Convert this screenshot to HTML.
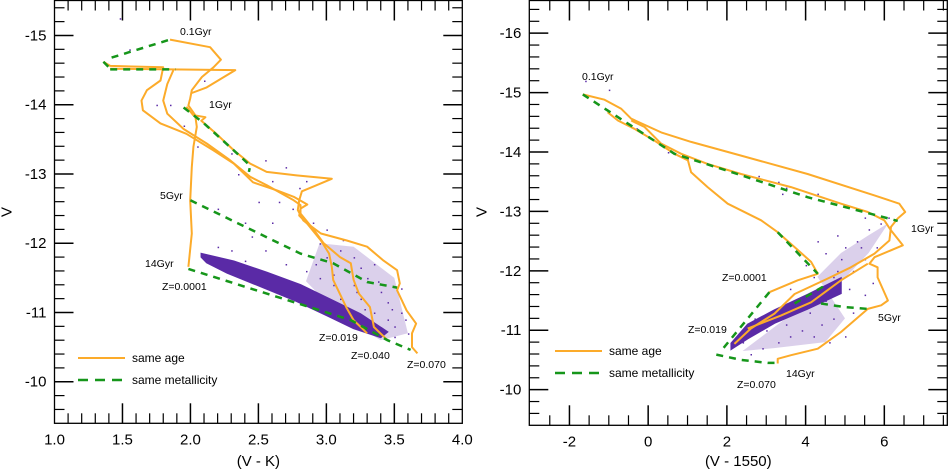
<!DOCTYPE html>
<html><head><meta charset="utf-8">
<style>
html,body{margin:0;padding:0;background:#fff;}
svg{display:block;font-family:"Liberation Sans",Arial,sans-serif;}
</style></head>
<body>
<svg id="fig" width="948" height="471" viewBox="0 0 948 471" xmlns="http://www.w3.org/2000/svg"></svg>
<script>
// ---------- LEFT PANEL DATA (V-K vs V) ----------
const L_xTicks = [1.0,1.5,2.0,2.5,3.0,3.5,4.0];
const L_xTickLabels = ["1.0","1.5","2.0","2.5","3.0","3.5","4.0"];
const L_yTicks = [-15,-14,-13,-12,-11,-10];
const L_yTickLabels = ["-15","-14","-13","-12","-11","-10"];
const L_ageTrack1 = [[1.85,-14.94],[2.145,-14.83],[2.224,-14.65],[2.17,-14.54],[2.084,-14.40],[2.01,-14.21],[1.998,-14.09],[1.985,-13.99],[2.035,-13.85],[2.047,-13.68],[2.022,-13.39],[2.01,-13.10],[1.998,-12.62],[2.01,-12.14],[1.985,-11.66]];
const L_ageTrack2 = [[1.41,-14.52],[2.33,-14.50],[2.12,-14.25],[2.01,-14.17]];
const L_ageTrack3 = [[1.36,-14.62],[1.41,-14.56],[1.80,-14.54],[1.78,-14.35],[1.68,-14.21],[1.64,-14.06],[1.65,-13.92],[1.78,-13.73],[1.97,-13.58],[2.17,-13.34],[2.32,-13.15],[2.46,-12.88],[2.64,-12.76],[2.76,-12.67],[2.86,-12.56],[2.81,-12.50],[2.80,-12.40],[2.86,-12.28],[2.96,-12.04],[3.02,-11.85],[3.04,-11.66],[3.05,-11.47],[3.15,-11.06],[3.20,-10.89],[3.30,-10.70]];
const L_ageTrack4 = [[1.875,-14.50],[1.83,-14.30],[1.80,-14.06],[1.83,-13.87],[1.95,-13.65],[2.12,-13.44],[2.29,-13.20],[2.44,-12.96],[2.56,-12.84],[2.76,-12.62],[2.81,-12.55],[2.81,-12.43],[2.91,-12.19],[2.98,-12.00],[3.10,-11.80],[3.18,-11.71],[3.20,-11.47],[3.24,-11.27],[3.32,-11.08],[3.35,-10.79],[3.45,-10.60]];
const L_ageTrack5 = [[1.97,-13.97],[2.02,-13.85],[2.11,-13.82],[2.08,-13.77],[2.19,-13.58],[2.32,-13.34],[2.44,-13.15],[2.56,-13.03],[2.78,-12.98],[3.04,-12.93],[2.93,-12.84],[2.82,-12.75],[2.80,-12.62],[2.79,-12.48],[2.83,-12.33],[2.96,-12.14],[3.15,-12.04],[3.30,-11.95],[3.42,-11.75],[3.52,-11.61],[3.54,-11.42],[3.52,-11.32],[3.59,-11.03],[3.66,-10.84],[3.63,-10.70],[3.63,-10.50],[3.67,-10.41]];
const L_met01a = [[1.42,-14.68],[1.85,-14.94]];
const L_met01b = [[1.36,-14.62],[1.41,-14.52]];
const L_met02 = [[1.41,-14.51],[1.89,-14.51]];
const L_met1Gyr = [[1.95,-13.96],[2.10,-13.73],[2.37,-13.25],[2.44,-13.12],[2.43,-13.03]];
const L_met5Gyr = [[2.0,-12.62],[2.81,-11.85],[3.05,-11.71],[3.30,-11.44],[3.52,-11.36]];
const L_met14Gyr = [[1.985,-11.63],[3.18,-10.89],[3.45,-10.60],[3.62,-10.46]];
const L_bandOutline = [[2.08,-11.85],[2.32,-11.74],[2.56,-11.58],[2.81,-11.40],[3.05,-11.17],[3.25,-10.98],[3.45,-10.72],[3.40,-10.64],[3.20,-10.77],[3.00,-10.96],[2.76,-11.18],[2.51,-11.38],[2.27,-11.57],[2.12,-11.72],[2.08,-11.80]];
const L_sparseOutline = [[2.85,-11.45],[2.95,-12.0],[3.2,-11.95],[3.5,-11.5],[3.6,-10.7],[3.4,-10.6],[3.1,-10.95]];
const L_scatter = [[2.3,-11.9],[2.45,-12.1],[2.6,-12.3],[2.75,-12.5],[2.9,-12.3],[2.95,-12.0],[3.0,-11.8],[3.1,-11.9],[3.15,-11.6],[3.2,-11.4],[3.25,-11.2],[3.3,-11.5],[3.35,-11.0],[3.4,-11.3],[3.45,-10.9],[3.5,-10.8],[3.55,-11.0],[3.6,-10.7],[3.1,-11.2],[3.05,-11.4],[2.95,-11.5],[2.85,-11.6],[2.7,-11.7],[3.2,-11.8],[3.3,-10.8],[3.4,-10.75],[3.5,-10.65],[3.0,-12.2],[2.8,-12.8],[2.65,-12.6],[2.5,-12.6],[2.4,-12.3],[2.2,-12.5],[2.35,-13.0],[2.55,-13.2],[2.7,-13.1],[2.3,-13.3],[2.05,-13.4],[1.95,-13.7],[1.85,-14.0],[1.75,-14.0],[1.55,-14.8],[1.48,-15.25],[2.1,-14.35],[2.6,-12.9],[2.85,-12.9],[3.12,-12.05],[3.25,-11.65],[3.45,-11.15],[3.55,-11.35],[3.38,-11.45],[3.28,-11.05],[3.15,-11.75],[3.05,-11.55],[2.92,-11.7],[3.48,-11.05],[3.58,-10.9],[2.55,-11.9],[2.4,-11.75],[2.2,-11.95],[3.35,-11.7],[3.22,-11.3]];

// ---------- RIGHT PANEL DATA (V-1550 vs V) ----------
const R_xTicks = [-2,0,2,4,6];
const R_xTickLabels = ["-2","0","2","4","6"];
const R_yTicks = [-16,-15,-14,-13,-12,-11,-10];
const R_yTickLabels = ["-16","-15","-14","-13","-12","-11","-10"];
const R_ageTrackA = [[-1.66,-14.97],[-1.11,-14.88],[-0.69,-14.73],[-0.43,-14.56],[0.33,-14.33],[1.09,-14.17],[2.36,-13.94],[4.05,-13.63],[5.75,-13.27],[6.38,-13.13],[6.53,-12.99],[6.34,-12.88],[6.17,-12.74],[6.13,-12.51],[5.75,-12.29],[5.15,-12.06],[4.56,-11.87],[3.72,-11.61],[3.21,-11.28],[2.61,-11.03],[2.19,-10.77]];
const R_ageTrackB = [[-1.03,-14.67],[-0.77,-14.53],[-0.35,-14.39],[0.16,-14.19],[0.67,-13.97],[1.01,-13.86],[1.09,-13.66],[1.51,-13.41],[2.02,-13.13],[2.87,-12.85],[3.29,-12.65],[3.72,-12.40],[4.14,-12.15],[4.31,-11.95],[3.80,-11.84],[3.08,-11.64]];
const R_ageTrackC = [[-0.43,-14.53],[-0.09,-14.42],[0.33,-14.14],[0.84,-13.97],[1.51,-13.80],[2.36,-13.63],[3.63,-13.41],[4.90,-13.13],[5.58,-12.99],[6.00,-12.85],[6.17,-12.68],[6.47,-12.43],[5.75,-12.23],[5.62,-12.12],[5.83,-12.06],[5.83,-11.89],[6.09,-11.50],[5.92,-11.42],[5.58,-11.36],[4.90,-10.97],[4.31,-10.69],[3.63,-10.58],[3.29,-10.52],[3.29,-10.44]];
const R_ageTrackD = [[2.53,-11.03],[3.38,-11.25],[4.14,-11.47],[4.90,-11.84],[5.58,-12.12]];
const R_met1 = [[-1.66,-14.97],[0.67,-13.97],[2.36,-13.61],[4.05,-13.24],[6.34,-12.84]];
const R_met2 = [[3.29,-12.65],[4.31,-11.95]];
const R_met3 = [[3.08,-11.64],[1.90,-10.69]];
const R_met4 = [[3.72,-11.45],[4.56,-11.78]];
const R_met5 = [[4.39,-11.45],[4.99,-11.39],[5.58,-11.36]];
const R_met6 = [[1.73,-10.59],[2.36,-10.50],[3.04,-10.45],[3.21,-10.45]];
const R_bandOutline = [[2.11,-10.78],[2.53,-11.10],[3.21,-11.34],[4.05,-11.60],[4.90,-11.88],[4.90,-11.62],[4.05,-11.36],[3.21,-11.12],[2.53,-10.86],[2.11,-10.68]];
const R_sparseOutline = [[2.4,-10.65],[3.5,-11.2],[4.6,-11.6],[5.6,-12.3],[6.1,-12.8],[5.6,-12.6],[4.9,-12.3],[4.3,-11.9],[5.0,-11.2],[4.5,-10.8],[3.2,-10.7]];
const R_scatter = [[4.5,-12.3],[4.8,-12.6],[5.0,-12.4],[5.3,-12.5],[5.6,-12.7],[5.9,-12.8],[6.1,-12.9],[5.5,-12.2],[5.2,-12.0],[4.7,-11.9],[4.2,-11.9],[4.0,-12.1],[3.6,-11.7],[3.9,-11.0],[4.2,-10.9],[4.6,-10.8],[5.0,-10.9],[3.3,-10.8],[2.9,-10.7],[2.6,-10.6],[3.5,-11.1],[4.4,-11.1],[5.2,-11.3],[5.5,-11.6],[5.7,-11.8],[4.9,-12.2],[4.3,-12.5],[3.4,-13.3],[3.3,-13.5],[2.8,-13.6],[1.0,-13.9],[0.5,-14.0],[-0.3,-14.4],[-1.6,-15.2],[-1.0,-15.05],[3.5,-13.4],[4.3,-13.3],[5.5,-12.9],[4.1,-11.3],[3.0,-11.0],[2.7,-11.2],[3.8,-11.5],[4.5,-11.5],[5.8,-12.4],[4.7,-11.2],[3.6,-10.9],[2.4,-10.8],[5.4,-12.4],[4.8,-12.0],[5.1,-11.7]];

// ---------- RENDERING ----------
const NS = "http://www.w3.org/2000/svg";
const svg = document.getElementById("fig");
const ORANGE = "#fcab2a", GREEN = "#16961a", PURPLE = "#5a2aa6";

function mk(tag, attrs, parent){
  const e = document.createElementNS(NS, tag);
  for (const k in attrs) e.setAttribute(k, attrs[k]);
  (parent||svg).appendChild(e);
  return e;
}

function panel(cfg){
  const g = mk("g", {});
  
  
  const sx = v => cfg.x0 + (v - cfg.xmin)/(cfg.xmax - cfg.xmin)*(cfg.x1 - cfg.x0);
  const sy = v => cfg.y0 + (v - cfg.ymin)/(cfg.ymax - cfg.ymin)*(cfg.y1 - cfg.y0);
  const pts = arr => arr.map(p => sx(p[0]).toFixed(1)+","+sy(p[1]).toFixed(1)).join(" ");

  const sp = mk("polygon", {points: pts(cfg.sparse), fill: PURPLE, "fill-opacity": 0.22, stroke: "none"}, g);
  
  
  const band = mk("polygon", {points: pts(cfg.band), fill: PURPLE, stroke: PURPLE, "stroke-width": 1.5}, g);
  
  
  cfg.scatter.forEach(p => {
    const d = mk("rect", {x: sx(p[0]).toFixed(1), y: sy(p[1]).toFixed(1), width: 1.5, height: 1.5, fill: PURPLE}, g);
    
    
  });
  cfg.ages.forEach(a => {
    const l = mk("polyline", {points: pts(a), fill: "none", stroke: ORANGE, "stroke-width": 2, "stroke-linejoin": "round"}, g);
    
    
  });
  cfg.mets.forEach(a => {
    const l = mk("polyline", {points: pts(a), fill: "none", stroke: GREEN, "stroke-width": 2.5, "stroke-dasharray": "7,6"}, g);
    
    
  });

  const fr = mk("rect", {x: cfg.x0, y: cfg.y0, width: cfg.x1-cfg.x0, height: cfg.y1-cfg.y0, fill: "none", stroke: "#000", "stroke-width": 1.3}, g);
  
  

  for (let v = cfg.xmin; v <= cfg.xmax + 1e-9; v += cfg.xMinor) {
    const vv = Math.round(v/cfg.xMinor)*cfg.xMinor;
    const major = cfg.xTicks.some(t => Math.abs(t - vv) < 1e-6);
    const len = major ? 20 : 10;
    const X = sx(vv);
    if (X < cfg.x0 + 1 || X > cfg.x1 - 1) continue;
    mk("line", {x1: X, x2: X, y1: cfg.y1, y2: cfg.y1 - len, stroke: "#000", "stroke-width": major?1.5:1.2}, g);
    mk("line", {x1: X, x2: X, y1: cfg.y0, y2: cfg.y0 + len, stroke: "#000", "stroke-width": major?1.5:1.2}, g);
  }
  cfg.xTicks.forEach((t,i) => {
    const tx = mk("text", {x: sx(t), y: cfg.y1 + 21, "font-size": 15, "text-anchor": "middle"}, g);
    tx.textContent = cfg.xTickLabels[i];
    
    
  });
  const yLo = Math.min(cfg.ymin, cfg.ymax), yHi = Math.max(cfg.ymin, cfg.ymax);
  for (let v = Math.ceil(yLo/0.2)*0.2; v <= yHi + 1e-9; v += 0.2) {
    const vv = Math.round(v*5)/5;
    const major = Math.abs(vv - Math.round(vv)) < 1e-6;
    const len = major ? 19 : 10;
    const Y = sy(vv);
    if (Y < cfg.y0 + 1 || Y > cfg.y1 - 1) continue;
    mk("line", {x1: cfg.x0, x2: cfg.x0 + len, y1: Y, y2: Y, stroke: "#000", "stroke-width": major?1.5:1.2}, g);
    mk("line", {x1: cfg.x1, x2: cfg.x1 - len, y1: Y, y2: Y, stroke: "#000", "stroke-width": major?1.5:1.2}, g);
  }
  cfg.yTicks.forEach((t,i) => {
    const tx = mk("text", {x: cfg.x0 - 8, y: sy(t) + 5, "font-size": 15, "text-anchor": "end"}, g);
    tx.textContent = cfg.yTickLabels[i];
    
    
  });
  const xt = mk("text", {x: (cfg.x0+cfg.x1)/2, y: 466, "font-size": 15, "text-anchor": "middle"}, g);
  xt.textContent = cfg.xTitle;
  
  
  const yt = mk("text", {x: 0, y: 0, "font-size": 15, "text-anchor": "middle", transform: `translate(${cfg.x0-43},212) rotate(-90)`}, g);
  yt.textContent = "V";
  
  

  cfg.labels.forEach(l => {
    const t = mk("text", {x: l[1], y: l[2], "font-size": 10.5, "dominant-baseline": "middle"}, g);
    t.textContent = l[0];
    
    
  });
  const lg = mk("g", {}, g);
  
  
  const l1 = mk("line", {x1: cfg.leg[0], x2: cfg.leg[0]+47, y1: cfg.leg[1], y2: cfg.leg[1], stroke: ORANGE, "stroke-width": 2}, lg);
  
  
  const t1 = mk("text", {x: cfg.leg[0]+54, y: cfg.leg[1]+4, "font-size": 12}, lg);
  t1.textContent = "same age";
  
  
  const l2 = mk("line", {x1: cfg.leg[0], x2: cfg.leg[0]+47, y1: cfg.leg[1]+22, y2: cfg.leg[1]+22, stroke: GREEN, "stroke-width": 2.5, "stroke-dasharray": "10,7"}, lg);
  
  
  const t2 = mk("text", {x: cfg.leg[0]+54, y: cfg.leg[1]+26, "font-size": 12}, lg);
  t2.textContent = "same metallicity";
  
  
}

panel({
  name: "left-panel-v-k", x0: 54.5, x1: 462.3, y0: 0.5, y1: 423.3,
  xmin: 1.0, xmax: 4.0, ymin: -15.505, ymax: -9.4, xMinor: 0.1,
  xTicks: L_xTicks, xTickLabels: L_xTickLabels, yTicks: L_yTicks, yTickLabels: L_yTickLabels,
  xTitle: "(V - K)",
  ages: [L_ageTrack1, L_ageTrack2, L_ageTrack3, L_ageTrack4, L_ageTrack5],
  mets: [L_met01a, L_met01b, L_met02, L_met1Gyr, L_met5Gyr, L_met14Gyr],
  band: L_bandOutline, sparse: L_sparseOutline, scatter: L_scatter,
  labels: [["0.1Gyr",180,32],["1Gyr",209,105],["5Gyr",160,196],["14Gyr",145,264],["Z=0.0001",162,287],["Z=0.019",319,338],["Z=0.040",351,356],["Z=0.070",407,365]],
  leg: [78, 358]
});
panel({
  name: "right-panel-v-1550", x0: 529.3, x1: 947.3, y0: 0.5, y1: 425.3,
  xmin: -3.02, xmax: 7.6, ymin: -16.55, ymax: -9.4, xMinor: 0.5,
  xTicks: R_xTicks, xTickLabels: R_xTickLabels, yTicks: R_yTicks, yTickLabels: R_yTickLabels,
  xTitle: "(V - 1550)",
  ages: [R_ageTrackA, R_ageTrackB, R_ageTrackC, R_ageTrackD],
  mets: [R_met1, R_met2, R_met3, R_met4, R_met5, R_met6],
  band: R_bandOutline, sparse: R_sparseOutline, scatter: R_scatter,
  labels: [["0.1Gyr",582,77],["1Gyr",911,229],["5Gyr",878,318],["14Gyr",786,374],["Z=0.0001",722,278],["Z=0.019",688,330],["Z=0.070",737,385]],
  leg: [555, 351]
});
</script>
</body></html>
